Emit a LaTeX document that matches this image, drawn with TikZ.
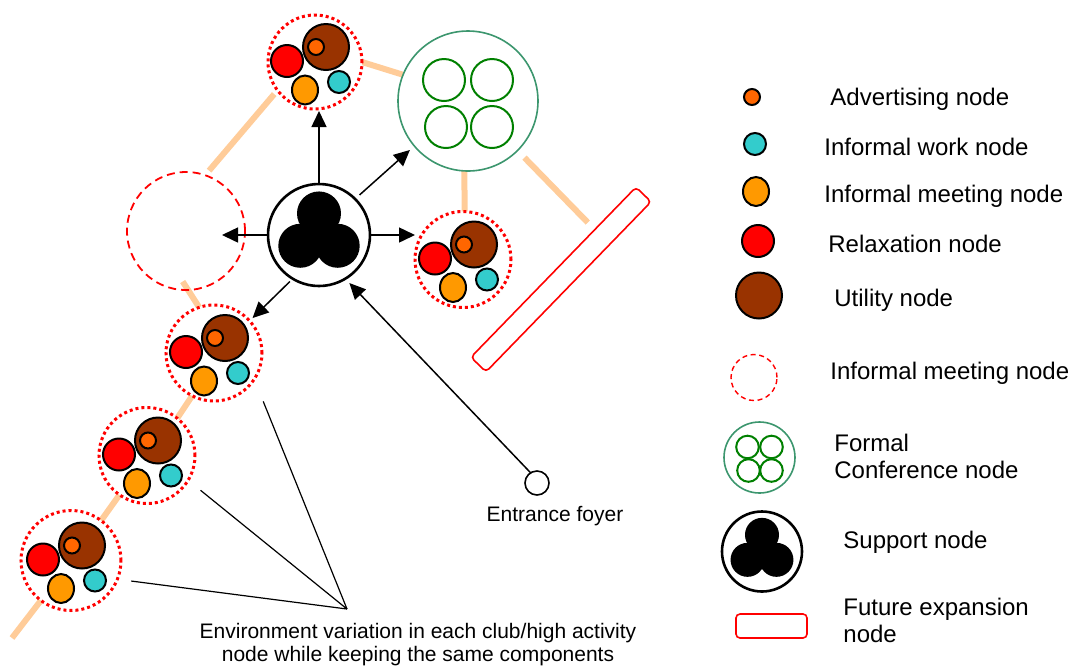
\documentclass[tikz,border=0pt]{standalone}
\usepackage{fontspec}
\setmainfont{Liberation Sans}
\usetikzlibrary{shapes.geometric,arrows.meta,calc,backgrounds}

\definecolor{utilbrown}{RGB}{153,51,0}
\definecolor{advorange}{RGB}{255,102,0}
\definecolor{meetorange}{RGB}{255,153,0}
\definecolor{workcyan}{RGB}{51,204,204}
\definecolor{peach}{RGB}{255,204,153}
\definecolor{confgreen}{RGB}{60,150,110}
\definecolor{roomgreen}{RGB}{0,128,0}

\tikzset{
  dot/.style={circle, draw=black, line width=1pt, inner sep=0pt, outer sep=0pt},
  util/.style={dot, fill=utilbrown, minimum size=23pt},
  adv/.style={dot, fill=advorange, minimum size=8pt},
  relax/.style={dot, fill=red, minimum size=16pt},
  meet/.style={ellipse, draw=black, line width=1pt, fill=meetorange, inner sep=0pt,
    outer sep=0pt, minimum width=13pt, minimum height=14.5pt},
  work/.style={dot, fill=workcyan, minimum size=11pt},
  club/.style={circle, draw=red, fill=white, line width=1.5pt,
    dash pattern=on 1.5pt off 1.5pt, inner sep=0pt, outer sep=0pt},
  sup/.style={circle, draw=black, fill=white, line width=1.3pt, inner sep=0pt, outer sep=0pt},
  blob/.style={circle, fill=black, inner sep=0pt, outer sep=0pt},
  meetzone/.style={circle, draw=red, line width=0.9pt, dash pattern=on 4pt off 2.5pt,
    inner sep=0pt, outer sep=0pt},
  conf/.style={circle, draw=confgreen, fill=white, line width=0.8pt, inner sep=0pt, outer sep=0pt},
  room/.style={circle, draw=roomgreen, line width=1pt, inner sep=0pt, outer sep=0pt},
  future/.style={rectangle, draw=red, fill=white, line width=0.8pt, rounded corners=2pt,
    inner sep=0pt, outer sep=0pt},
  entry/.style={circle, draw=black, fill=white, line width=0.8pt, minimum size=12pt,
    inner sep=0pt, outer sep=0pt},
  peachline/.style={draw=peach, line width=3pt},
  flow/.style={-{Triangle[length=8pt,width=7.5pt]}, line width=0.75pt},
  annot/.style={line width=0.6pt},
  legtext/.style={anchor=west, inner sep=0pt, align=left, font=\fontsize{12}{13.5}\selectfont},
  smalltext/.style={inner sep=0pt, align=center, font=\fontsize{10.5}{11.5}\selectfont}
}

% club / high activity node: name, x, y, radius
\newcommand{\clubnode}[4]{%
  \node[club, minimum size=#4pt] (#1) at (#2,#3) {};
  \node[util] (#1-u) at ({#2+11},{#3-15}) {};
  \node[adv] (#1-a) at ({#2+1},{#3-15}) {};
  \node[relax] (#1-r) at ({#2-28},{#3-1}) {};
  \node[meet] (#1-m) at ({#2-10},{#3+28}) {};
  \node[work] (#1-w) at ({#2+24},{#3+20}) {};
}
% support node: name, x, y, outer radius, blob radius
\newcommand{\supportnode}[5]{%
  \node[sup, minimum size=#4pt] (#1) at (#2,#3) {};
  \node[blob, minimum size=#5pt] (#1-t) at (#2,{#3-0.98*#5}) {};
  \node[blob, minimum size=#5pt] (#1-l) at ({#2-0.85*#5},{#3+0.49*#5}) {};
  \node[blob, minimum size=#5pt] (#1-r) at ({#2+0.85*#5},{#3+0.49*#5}) {};
}
% formal conference node: name, x, y, outer radius, room radius, scale
\newcommand{\confnode}[6]{%
  \node[conf, minimum size=#4pt] (#1) at (#2,#3) {};
  \node[room, minimum size=#5pt] (#1-1) at ({#2-24*#6},{#3-21*#6}) {};
  \node[room, minimum size=#5pt] (#1-2) at ({#2+24*#6},{#3-21*#6}) {};
  \node[room, minimum size=#5pt] (#1-3) at ({#2-22*#6},{#3+26*#6}) {};
  \node[room, minimum size=#5pt] (#1-4) at ({#2+24*#6},{#3+26*#6}) {};
}

\begin{document}
\begin{tikzpicture}[x=0.5pt,y=-0.5pt]
\useasboundingbox (0,0) rectangle (1072,666);

% plan
\supportnode{sup}{319}{235}{51}{22}
\confnode{conf}{468}{101}{70}{21}{1}
\node[meetzone, minimum size=59pt] (inf) at (186,231) {};
\node[future, minimum width=118.5pt, minimum height=10.5pt, rotate=45.85] (fut) at (561,279.5) {};
\clubnode{ctop}{315}{62}{47}
\clubnode{cright}{463}{259.5}{48}
\clubnode{cone}{214}{353}{48}
\clubnode{ctwo}{147}{455.5}{48}
\clubnode{cthree}{71}{560.5}{50}
\node[entry] (foyer) at (537,483) {};
\node[smalltext] (t-foyer) at (555,516) {Entrance foyer};
\node[smalltext] (t-note) at (418,645) {Environment variation in each club/high activity\\node while keeping the same components};

\coordinate (futtop) at ($(fut.north)!0.5!(fut.north east)$);
\coordinate (tail) at (12,638);
\coordinate (apex) at (347,609);

\begin{scope}[on background layer]
\draw[peachline, shorten <=2.5pt, shorten >=3pt] (ctop.217) -- (inf.71);
\draw[peachline] (ctop.east) -- (conf.158);
\draw[peachline] (conf.267) -- (cright.88);
\draw[peachline, shorten <=5pt, shorten >=5pt] (conf.-45) -- (futtop);
\draw[peachline, shorten <=-5pt] (inf.272) -- (cone.108);
\draw[peachline] (cone.243) -- (ctwo.51);
\draw[peachline] (ctwo.235) -- (cthree.53);
\draw[peachline] (cthree.233) -- (tail);
\end{scope}

\draw[flow, shorten >=1pt] (sup.north) -- (sup.north |- ctop.south);
\draw[flow, shorten >=18pt] (sup.west) -- (sup.west -| inf.center);
\draw[flow] (sup.east) -- (sup.east -| cright.west);
\draw[flow, shorten <=3pt, shorten >=3pt] (sup.45) -- (conf.220);
\draw[flow, shorten <=2pt, shorten >=2pt] (sup.239) -- (cone.42);
\draw[flow, shorten >=3pt] (foyer.122) -- (sup.301);

\draw[annot, shorten >=12pt] (apex) -- (cone.-33);
\draw[annot, shorten >=8pt] (apex) -- (ctwo.-31);
\draw[annot, shorten >=7pt] (apex) -- (cthree.-22);

% legend
\node[adv] (l-adv) at (752,97) {};
\node[legtext] (t-adv) at (830,99) {Advertising node};
\node[work] (l-work) at (755,144) {};
\node[legtext] (t-work) at (824,147) {Informal work node};
\node[meet] (l-meet) at (756,191.5) {};
\node[legtext] (t-meet) at (824,196) {Informal meeting node};
\node[relax] (l-relax) at (758,241) {};
\node[legtext] (t-relax) at (828,244) {Relaxation node};
\node[util] (l-util) at (759,295.5) {};
\node[legtext] (t-util) at (834,300) {Utility node};
\node[meetzone, minimum size=23pt, dash pattern=on 2.5pt off 1.8pt, line width=0.7pt] (l-zone) at (754,377.5) {};
\node[legtext] (t-zone) at (830,373) {Informal meeting node};
\confnode{l-conf}{759.5}{457.5}{35.5}{11.3}{0.5}
\node[legtext] (t-conf) at (834,456) {Formal\\Conference node};
\supportnode{l-sup}{762}{551.5}{40}{17}
\node[legtext] (t-sup) at (843,542) {Support node};
\node[future, minimum width=35.5pt, minimum height=12pt] (l-fut) at (771.5,626) {};
\node[legtext] (t-fut) at (843,620) {Future expansion\\node};
\end{tikzpicture}
\end{document}
